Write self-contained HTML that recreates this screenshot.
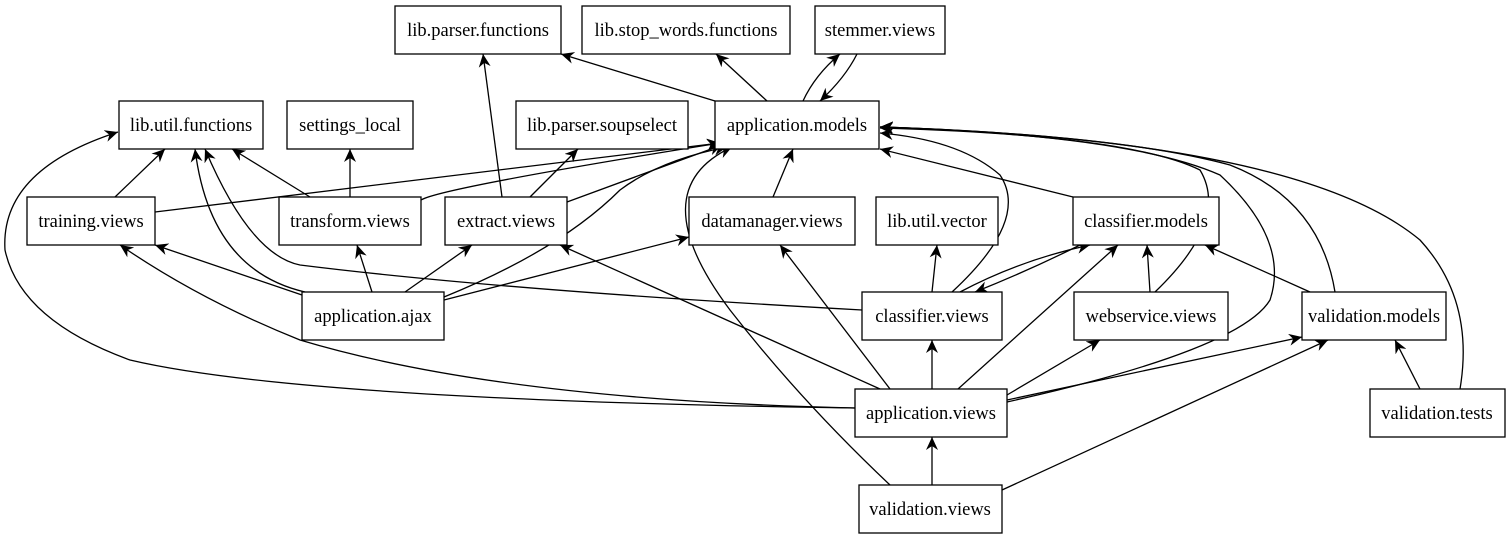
<!DOCTYPE html>
<html><head><meta charset="utf-8"><style>
html,body{margin:0;padding:0;background:#fff;}
svg{display:block;}
text{font-family:"Liberation Serif",serif;font-size:18.5px;fill:#000;}
</style></head><body>
<svg width="1510" height="539" viewBox="0 0 1510 539" xmlns="http://www.w3.org/2000/svg">
<defs>
<marker id="a" markerWidth="14" markerHeight="12" refX="13" refY="6" orient="auto" markerUnits="userSpaceOnUse">
<path d="M0,0 L13,6 L0,12 L4,6 Z" fill="#000"/>
</marker>
</defs>
<g fill="none" stroke="#000" stroke-width="1.3" marker-end="url(#a)">
<path d="M715,101 L561,54"/>
<path d="M767,101 L716,54"/>
<path d="M803,101 Q815,75 840,54"/>
<path d="M857,54 Q845,78 820,101"/>
<path d="M502,197 L483,54"/>
<path d="M115,197 L165,149"/>
<path d="M310,197 L232,149"/>
<path d="M350,197 L350,149"/>
<path d="M530,197 L578,149"/>
<path d="M155,212 L720,143"/>
<path d="M421,200 Q440,188 720,143"/>
<path d="M567,202 L722,145"/>
<path d="M444,297 Q560,250 620,190 Q660,160 727,147"/>
<path d="M890,485 Q800,400 730,310 Q640,190 732,147"/>
<path d="M773,197 L793,149"/>
<path d="M1073,197 L880,149"/>
<path d="M952,292 Q1030,220 1000,175 Q960,140 880,133"/>
<path d="M1155,292 Q1230,220 1200,170 Q1130,135 880,128"/>
<path d="M1007,402 Q1240,350 1270,300 Q1290,240 1220,175 Q1130,135 880,127"/>
<path d="M1335,292 Q1320,200 1230,165 Q1120,135 880,127"/>
<path d="M1460,389 Q1475,300 1420,240 Q1300,140 880,127"/>
<path d="M302,295 L155,245"/>
<path d="M305,292 Q210,270 195,149"/>
<path d="M862,310 Q500,290 300,265 Q250,255 205,149"/>
<path d="M372,292 L357,245"/>
<path d="M405,292 L472,245"/>
<path d="M444,300 L689,237"/>
<path d="M855,408 Q500,400 300,340 Q200,300 120,245"/>
<path d="M855,408 Q300,400 130,360 Q20,320 5,250 Q0,170 118,132"/>
<path d="M880,389 L560,245"/>
<path d="M890,389 Q830,310 780,245"/>
<path d="M932,389 L932,340"/>
<path d="M958,389 L1118,245"/>
<path d="M1007,395 L1100,340"/>
<path d="M1007,400 L1302,337"/>
<path d="M932,485 L932,437"/>
<path d="M1002,490 L1328,340"/>
<path d="M1420,389 L1395,340"/>
<path d="M932,292 L937,245"/>
<path d="M960,292 Q1020,260 1090,245"/>
<path d="M1080,245 Q1030,270 975,292"/>
<path d="M1150,292 L1147,245"/>
<path d="M1310,292 L1205,245"/>
</g>
<g fill="#fff" stroke="#000" stroke-width="1.3">
<rect x="395" y="6" width="166" height="48"/>
<rect x="582" y="6" width="208" height="48"/>
<rect x="815" y="6" width="130" height="48"/>
<rect x="119" y="101" width="144" height="48"/>
<rect x="287" y="101" width="126" height="48"/>
<rect x="516" y="101" width="172" height="48"/>
<rect x="715" y="101" width="164" height="48"/>
<rect x="27" y="197" width="128" height="48"/>
<rect x="279" y="197" width="142" height="48"/>
<rect x="445" y="197" width="122" height="48"/>
<rect x="689" y="197" width="166" height="48"/>
<rect x="876" y="197" width="122" height="48"/>
<rect x="1073" y="197" width="146" height="48"/>
<rect x="302" y="292" width="142" height="48"/>
<rect x="862" y="292" width="140" height="48"/>
<rect x="1074" y="292" width="154" height="48"/>
<rect x="1302" y="292" width="144" height="48"/>
<rect x="855" y="389" width="152" height="48"/>
<rect x="1370" y="389" width="135" height="48"/>
<rect x="859" y="485" width="143" height="48"/>
</g>
<g text-anchor="middle">
<text x="478" y="36">lib.parser.functions</text>
<text x="686" y="36">lib.stop_words.functions</text>
<text x="880" y="36">stemmer.views</text>
<text x="191" y="131">lib.util.functions</text>
<text x="350" y="131">settings_local</text>
<text x="602" y="131">lib.parser.soupselect</text>
<text x="797" y="131">application.models</text>
<text x="91" y="227">training.views</text>
<text x="350" y="227">transform.views</text>
<text x="506" y="227">extract.views</text>
<text x="772" y="227">datamanager.views</text>
<text x="937" y="227">lib.util.vector</text>
<text x="1146" y="227">classifier.models</text>
<text x="373" y="322">application.ajax</text>
<text x="932" y="322">classifier.views</text>
<text x="1151" y="322">webservice.views</text>
<text x="1374" y="322">validation.models</text>
<text x="931" y="419">application.views</text>
<text x="1437" y="419">validation.tests</text>
<text x="930" y="515">validation.views</text>
</g>
</svg>
</body></html>
